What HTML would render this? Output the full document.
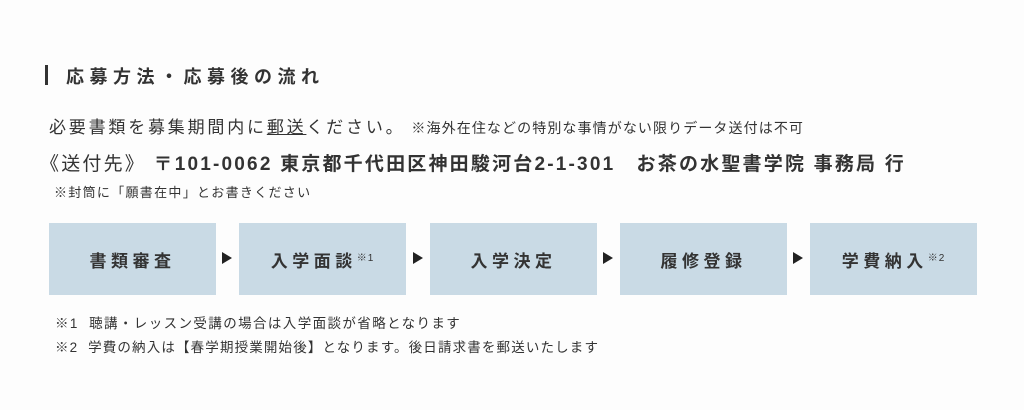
<!DOCTYPE html>
<html><head><meta charset="utf-8"><style>
body{margin:0;width:1024px;height:410px;background:#fdfdfd;position:relative;overflow:hidden;font-family:"Liberation Sans","Noto Sans CJK JP",sans-serif;color:#333;}
.a{position:absolute;white-space:nowrap;}
.box{position:absolute;top:223px;width:167px;height:72px;background:#c9dae5;display:flex;align-items:center;justify-content:center;font-size:17px;font-weight:bold;letter-spacing:4.5px;color:#333;}
.box sup{font-size:10px;letter-spacing:1px;font-weight:normal;position:relative;top:-3px;}
.arr{position:absolute;top:252px;width:0;height:0;border-top:6px solid transparent;border-bottom:6px solid transparent;border-left:10px solid #222;}
</style></head><body>
<div class="a" style="left:45px;top:65px;width:3px;height:20px;background:#333"></div>
<div class="a" style="left:66px;top:63px;font-size:18px;font-weight:bold;letter-spacing:5.5px;">応募方法・応募後の流れ</div>
<div class="a" style="left:49px;top:113px;font-size:17px;letter-spacing:2.8px;">必要書類を募集期間内に<span style="text-decoration:underline">郵送</span>ください。<span style="font-size:14px;letter-spacing:1.1px;margin-left:6px">※海外在住などの特別な事情がない限りデータ送付は不可</span></div>
<div class="a" style="left:40px;top:149px;font-size:19px;font-weight:bold;letter-spacing:2.2px;"><span style="font-weight:normal">《送付先》</span> 〒101-0062 東京都千代田区神田駿河台2-1-301　お茶の水聖書学院 事務局 行</div>
<div class="a" style="left:54px;top:182px;font-size:13px;letter-spacing:1.3px;">※封筒に「願書在中」とお書きください</div>
<div class="box" style="left:49px">書類審査</div>
<div class="arr" style="left:222px"></div>
<div class="box" style="left:239px">入学面談<sup>※1</sup></div>
<div class="arr" style="left:413px"></div>
<div class="box" style="left:430px">入学決定</div>
<div class="arr" style="left:603px"></div>
<div class="box" style="left:620px">履修登録</div>
<div class="arr" style="left:793px"></div>
<div class="box" style="left:810px">学費納入<sup>※2</sup></div>
<div class="a" style="left:55px;top:312px;font-size:13.5px;letter-spacing:1.4px;">※1&nbsp; 聴講・レッスン受講の場合は入学面談が省略となります</div>
<div class="a" style="left:55px;top:336px;font-size:13.5px;letter-spacing:1.15px;">※2&nbsp; 学費の納入は【春学期授業開始後】となります。後日請求書を郵送いたします</div>
</body></html>
